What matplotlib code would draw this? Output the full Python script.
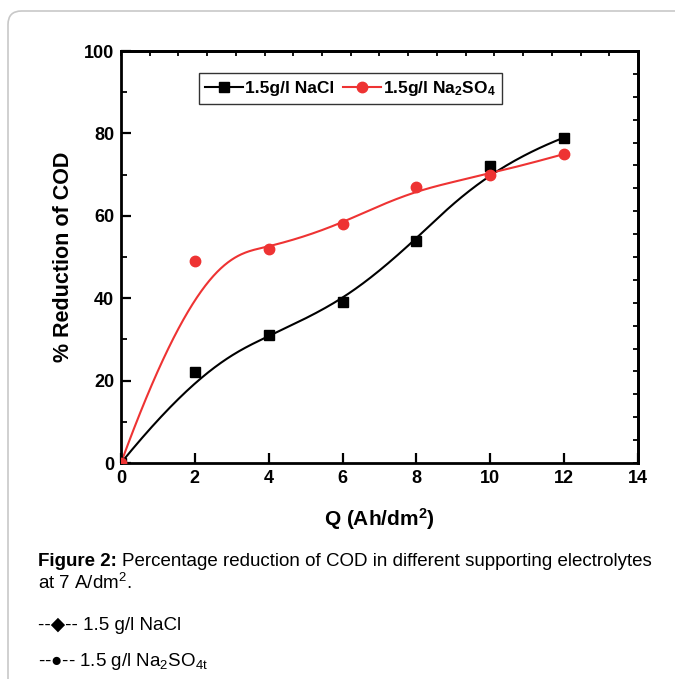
import numpy as np
import matplotlib
matplotlib.use("Agg")
import matplotlib.pyplot as plt
from matplotlib.patches import FancyBboxPatch
from matplotlib.ticker import MultipleLocator, NullFormatter

plt.rcParams['font.family'] = ['Liberation Sans', 'DejaVu Sans']
plt.rcParams['mathtext.fontset'] = 'custom'
plt.rcParams['mathtext.rm'] = 'Liberation Sans'
plt.rcParams['mathtext.bf'] = 'Liberation Sans:bold'
plt.rcParams['mathtext.it'] = 'Liberation Sans:italic'

# Data
q = [0, 2, 4, 6, 8, 10, 12]
nacl = [0, 22, 31, 39, 54, 72, 79]
na2so4 = [0, 49, 52, 58, 67, 70, 75]
labels = ["1.5g/l NaCl", r"1.5g/l Na$_\mathbf{2}$SO$_\mathbf{4}$"]
colors = ["black", "#ee3333"]
markers = ["s", "o"]


def bspline(xs, ys, k=3, num=400):
    P = np.column_stack([xs, ys]).astype(float)
    n = len(P)
    knots = np.concatenate([np.zeros(k), np.linspace(0, 1, n - k + 1), np.ones(k)])
    t = np.linspace(0, 1, num)
    t[-1] = 1 - 1e-10
    B = np.zeros((num, len(knots) - 1))
    for i in range(len(knots) - 1):
        B[:, i] = (t >= knots[i]) & (t < knots[i + 1])
    for d in range(1, k + 1):
        Bn = np.zeros((num, len(knots) - 1 - d))
        for i in range(len(knots) - 1 - d):
            a = knots[i + d] - knots[i]
            b = knots[i + d + 1] - knots[i + 1]
            term = np.zeros(num)
            if a > 0:
                term += (t - knots[i]) / a * B[:, i]
            if b > 0:
                term += (knots[i + d + 1] - t) / b * B[:, i + 1]
            Bn[:, i] = term
        B = Bn
    C = B @ P
    return C[:, 0], C[:, 1]


fig = plt.figure(figsize=(6.75, 6.79), dpi=100)

# rounded frame
frame = FancyBboxPatch((8 / 675, -0.05), 1.2, 1.05 - 11 / 679,
                       boxstyle="round,pad=0,rounding_size=0.02",
                       transform=fig.transFigure, fc="none", ec="#c8c8c8", lw=1.2,
                       zorder=-5)
fig.patches.append(frame)

ax = fig.add_axes([121 / 675, 1 - 463 / 679, (638 - 121) / 675, (463 - 51) / 679])
ax.patch.set_alpha(0)

series = [nacl, na2so4]
handles = []
for ys, c, m, lab in zip(series, colors, markers, labels):
    sx, sy = bspline(q, ys)
    ms = 7.5 if m == "o" else 7
    ax.plot(sx, sy, color=c, lw=1.5, zorder=2)
    ax.plot(q, ys, linestyle="none", marker=m, color=c, ms=ms, zorder=3)
    h, = ax.plot([], [], color=c, lw=1.5, marker=m, ms=ms, label=lab)
    handles.append(h)

ax.set_xlim(0, 14)
ax.set_ylim(0, 100)
ax.xaxis.set_major_locator(MultipleLocator(2))
ax.yaxis.set_major_locator(MultipleLocator(20))
ax.yaxis.set_minor_locator(MultipleLocator(10))
for sp in ax.spines.values():
    sp.set_linewidth(2)
ax.tick_params(axis="both", which="major", direction="in", length=7, width=1.6,
               labelsize=13, top=False, right=False, pad=5)
ax.tick_params(axis="y", which="minor", direction="in", length=4, width=1.3, right=False)
for lab in ax.get_xticklabels() + ax.get_yticklabels():
    lab.set_fontweight("bold")

sec_x = ax.secondary_xaxis("top")
sec_x.set_xticks(np.linspace(0, 14, 19))
sec_x.xaxis.set_major_formatter(NullFormatter())
sec_x.tick_params(direction="in", length=3.5, width=1.3)
sec_x.spines["top"].set_linewidth(2)
sec_y = ax.secondary_yaxis("right")
sec_y.set_yticks(np.linspace(0, 100, 19))
sec_y.yaxis.set_major_formatter(NullFormatter())
sec_y.tick_params(direction="in", length=3.5, width=1.3)
sec_y.spines["right"].set_linewidth(2)

ax.set_xlabel(r"Q (Ah/dm$^\mathbf{2}$)", fontsize=15, fontweight="bold", labelpad=14)
ax.set_ylabel("% Reduction of COD", fontsize=15.5, fontweight="bold", labelpad=7)

leg = ax.legend(handles=handles, loc="upper left", bbox_to_anchor=(0.151, 0.947),
                ncol=2, frameon=True, fancybox=False, edgecolor="black",
                prop={"weight": "bold", "size": 12.5}, handlelength=2.2,
                handletextpad=0.1, columnspacing=0.5, borderpad=0.35,
                borderaxespad=0)
leg.get_frame().set_linewidth(1.0)

# caption
fs = 13.5
fig.text(38 / 675, 1 - 561 / 679, "Figure 2:", fontsize=fs, fontweight="bold", va="center")
fig.text(122 / 675, 1 - 561 / 679, "Percentage reduction of COD in different supporting electrolytes",
         fontsize=fs, va="center")
fig.text(38 / 675, 1 - 583 / 679, r"at 7 A/dm$^2$.", fontsize=fs, va="center")
fig.text(38 / 675, 1 - 625 / 679, "--\u25c6-- 1.5 g/l NaCl", fontsize=fs, va="center")
fig.text(38 / 675, 1 - 662 / 679, "--\u25cf-- 1.5 g/l Na$_2$SO$_{\\mathrm{4t}}$",
         fontsize=fs, va="center")

fig.savefig("out.png", dpi=100)
